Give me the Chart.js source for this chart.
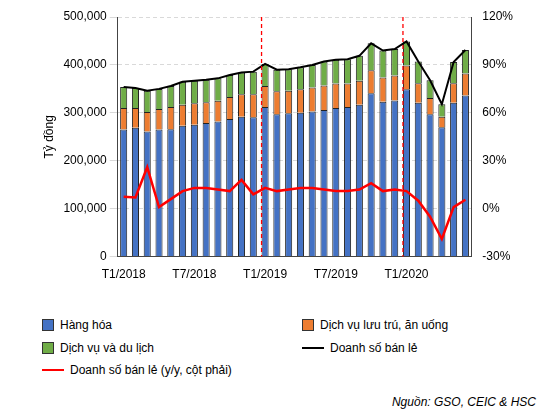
<!DOCTYPE html>
<html><head><meta charset="utf-8">
<script src="https://cdn.jsdelivr.net/npm/chart.js@4"></script>
<style>
body{margin:0;background:#fff;font-family:Arial,"Liberation Sans",sans-serif;}
#wrap{position:relative;width:556px;height:285px;}
.leg{position:absolute;font-size:12px;color:#000;display:flex;align-items:center;}
.sq{width:10px;height:10px;border:1px solid #333;margin-right:6px;}
.ln{width:22px;height:0;border-top:2px solid;margin-right:6px;}
#src{position:absolute;right:20px;top:395px;font-size:12px;font-style:italic;}
</style></head><body>
<div id="wrap"><canvas id="c" width="556" height="285"></canvas></div>
<div class="leg" style="left:42px;top:318px"><div class="sq" style="background:#4472C4"></div>Hàng hóa</div>
<div class="leg" style="left:302px;top:318px"><div class="sq" style="background:#ED7D31"></div>Dịch vụ lưu trú, ăn uống</div>
<div class="leg" style="left:42px;top:341px"><div class="sq" style="background:#70AD47"></div>Dịch vụ và du lịch</div>
<div class="leg" style="left:302px;top:341px"><div class="ln" style="border-color:#000"></div>Doanh số bán lẻ</div>
<div class="leg" style="left:42px;top:363px"><div class="ln" style="border-color:#FF0000"></div>Doanh số bán lẻ (y/y, cột phải)</div>
<div id="src">Nguồn: GSO, CEIC &amp; HSC</div>
<script>
const months = [];
for (let y = 2018; y <= 2020; y++) for (let m = 1; m <= 12; m++) months.push('T' + m + '/' + y);
const labels = months.slice(0, 30);

const hangHoa = [265,269,261,265,266,273,275,279,282,287,292,291,312,297,299,300,303,306,310,312,317,341,323,326,349,321,297,270,321,336];
const luuTru = [45,41,41,43,46,44,45,43,43,46,47,48,44,48,47,49,50,51,51,49,50,48,51,52,50,41,34,22,41,46];
const duLich = [44,42,44,42,44,48,47,47,47,46,45,47,46,45,45,46,47,50,50,51,52,56,56,55,50,45,37,26,44,49];
const tongBanLe = [354,352,346,350,356,365,367,369,372,379,384,386,402,390,391,395,400,407,411,412,419,445,430,433,449,407,368,318,406,431];
const yoy = [7.5,7,26,1,6,11,13,13,12,11,18,9,13,11,12,13,13,12,11,11,12,16,11,12,11,5,-5,-19,1,5.6];
const markIdx = [12, 24];

const k = v => v.map(x => x * 1000);

const vlines = {
  id: 'vlines',
  afterDatasetsDraw(chart) {
    const {ctx, chartArea, scales} = chart;
    const step = scales.x.getPixelForValue(1) - scales.x.getPixelForValue(0);
    ctx.save();
    ctx.strokeStyle = '#FF0000'; ctx.lineWidth = 1.3; ctx.setLineDash([4, 3]);
    markIdx.forEach(i => {
      const x = scales.x.getPixelForValue(i) - step * 0.3;
      ctx.beginPath(); ctx.moveTo(x, chartArea.top); ctx.lineTo(x, chartArea.bottom); ctx.stroke();
    });
    ctx.restore();
  }
};

new Chart(document.getElementById('c'), {
  data: {
    labels: labels,
    datasets: [
      {type:'line', data: yoy, yAxisID:'y2', borderColor:'#FF0000', borderWidth:2.5, pointRadius:0, tension:0, order:0},
      {type:'line', data: k(tongBanLe), yAxisID:'y', borderColor:'#000', borderWidth:2, pointRadius:0, tension:0, order:1},
      {type:'bar', data: k(hangHoa), backgroundColor:'#4472C4', borderColor:'#222', borderWidth:1, stack:'s', categoryPercentage:0.6, barPercentage:1, order:2},
      {type:'bar', data: k(luuTru), backgroundColor:'#ED7D31', borderColor:'#222', borderWidth:1, stack:'s', categoryPercentage:0.6, barPercentage:1, order:2},
      {type:'bar', data: k(duLich), backgroundColor:'#70AD47', borderColor:'#222', borderWidth:1, stack:'s', categoryPercentage:0.6, barPercentage:1, order:2}
    ]
  },
  options: {
    responsive:false, animation:false,
    layout:{padding:{left:38, right:40, top:17}},
    plugins:{legend:{display:false}, tooltip:{enabled:false}},
    scales:{
      x:{stacked:true, grid:{display:false}, border:{color:'#444'},
         ticks:{color:'#000', font:{size:12}, maxRotation:0, autoSkip:false,
                callback:(v,i)=> i % 6 === 0 ? labels[i] : ''}},
      y:{stacked:true, min:0, max:500000, ticks:{stepSize:100000, color:'#000', font:{size:12},
           callback:v=>v.toLocaleString('en-US')},
         grid:{color:'#d9d9d9', drawTicks:true}, border:{color:'#444', dash:[4,3]},
         title:{display:true, text:'Tỷ đồng', color:'#000', font:{size:12}}},
      y2:{position:'right', min:-30, max:120, ticks:{stepSize:30, color:'#000', font:{size:12}, callback:v=>v+'%'},
          grid:{display:false}, border:{color:'#444'}}
    }
  },
  plugins:[vlines]
});
</script>
</body></html>
